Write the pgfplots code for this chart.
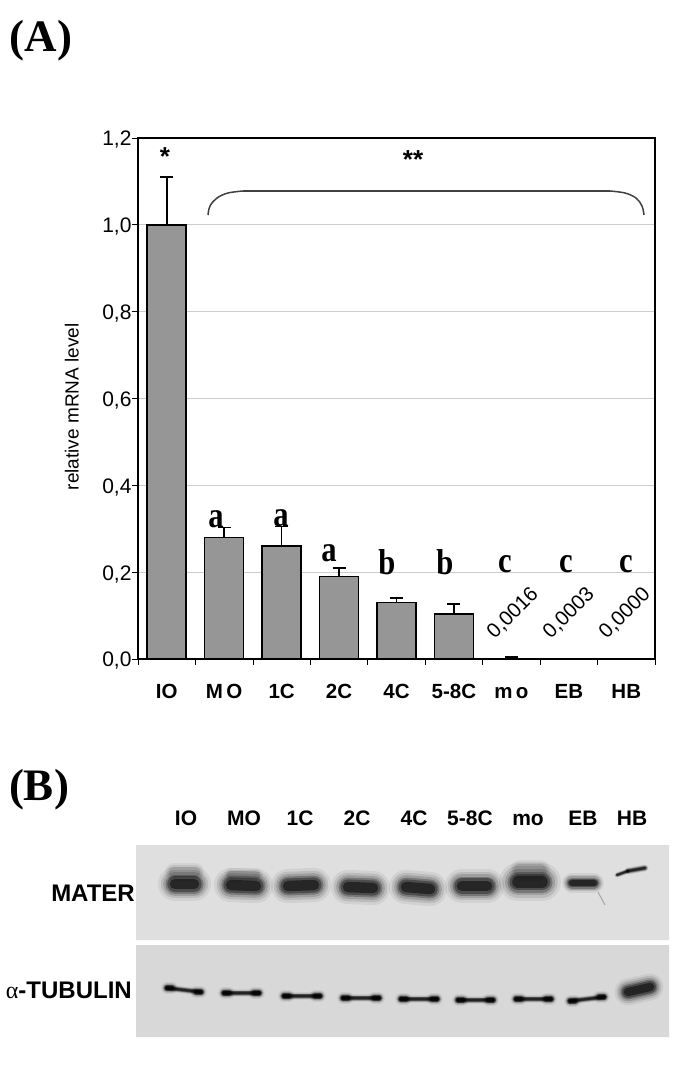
\documentclass[border=0pt]{standalone}
\usepackage{fontspec}
\setmainfont{Liberation Sans}
\newfontfamily\tms{Liberation Serif}
\usepackage{pgfplots}
\pgfplotsset{compat=1.18}
\usepackage{pgfplotstable}

\newcommand{\fs}[1]{\fontsize{#1}{#1}\selectfont}
\definecolor{barfill}{HTML}{969696}
\definecolor{gridc}{HTML}{CCCCCC}
\definecolor{blota}{HTML}{DFDFDF}
\definecolor{blotb}{HTML}{D8D8D8}

% relative mRNA level, x position 0.5 ... 8.5
\pgfplotstableread{
x    y      err
0.5  1.000  0.110
1.5  0.280  0.023
2.5  0.260  0.045
3.5  0.190  0.020
4.5  0.130  0.010
5.5  0.103  0.023
6.5  0.0016 0.0025
7.5  0.0003 0
8.5  0.0000 0
}\mrna

% blurred western blot band: x1 y1 x2 y2 width
\newcommand{\band}[5]{%
  \addplot[draw=black,line cap=round,opacity=0.06,line width=#5*1.8pt] coordinates {(#1,#2) (#3,#4)};
  \addplot[draw=black,line cap=round,opacity=0.10,line width=#5*1.5pt] coordinates {(#1,#2) (#3,#4)};
  \addplot[draw=black,line cap=round,opacity=0.15,line width=#5*1.25pt] coordinates {(#1,#2) (#3,#4)};
  \addplot[draw=black,line cap=round,opacity=0.25,line width=#5*1.0pt] coordinates {(#1,#2) (#3,#4)};
  \addplot[draw=black,line cap=round,opacity=0.35,line width=#5*0.8pt] coordinates {(#1,#2) (#3,#4)};
  \addplot[draw=black,line cap=round,opacity=0.50,line width=#5*0.55pt] coordinates {(#1,#2) (#3,#4)};
}
% faint smear above a band
\newcommand{\halo}[5]{%
  \addplot[draw=black,line cap=round,opacity=0.05,line width=#5*1.5pt] coordinates {(#1,#2) (#3,#4)};
  \addplot[draw=black,line cap=round,opacity=0.08,line width=#5*1.2pt] coordinates {(#1,#2) (#3,#4)};
  \addplot[draw=black,line cap=round,opacity=0.12,line width=#5*0.9pt] coordinates {(#1,#2) (#3,#4)};
}
% tubulin band: thin middle, heavier ends
\newcommand{\tub}[4]{%
  \band{#1}{#2}{#3}{#4}{4}
  \band{#1}{#2}{#1+5}{#2}{6.5}
  \band{#3-5}{#4}{#3}{#4}{6.5}
}

\pgfplotsset{px/.style={
  at={(0pt,0pt)},anchor=south west,
  width=685pt,height=1066pt,scale only axis,
  xmin=0,xmax=685,ymin=0,ymax=1066,y dir=reverse,
  axis lines=none,enlargelimits=false,clip=false,
}}

\begin{document}
\begin{tikzpicture}
% page and blot panels, in picture pixels
\begin{axis}[px]
\addplot[fill=white,draw=none] coordinates {(0,0) (685,0) (685,1066) (0,1066) (0,0)};
\addplot[fill=blota,draw=none] coordinates {(136,845) (669,845) (669,940) (136,940) (136,845)};
\addplot[fill=blotb,draw=none] coordinates {(136,945) (669,945) (669,1037) (136,1037) (136,945)};
% smears above the MATER bands
\halo{174}{872}{195}{872}{12}
\halo{231}{875}{256}{875}{9}
\halo{520}{870}{540}{870}{14}
% MATER
\band{175}{884}{194}{884}{19}
\band{231}{885}{256}{886}{19}
\band{288}{886}{314}{885}{19}
\band{348}{887}{373}{888}{19}
\band{406}{887}{430}{889}{19}
\band{462}{886}{487}{886}{19}
\band{518}{882}{542}{882}{21}
\band{572}{883}{594}{883}{11}
\band{617}{875}{628}{871}{3}
\band{628}{871}{645}{868}{4}
\addplot[draw=gray,line width=1pt,opacity=0.6] coordinates {(598,892) (605,905)};
% tubulin
\tub{167}{988}{201}{992}
\tub{224}{993}{259}{993}
\tub{284}{996}{320}{996}
\tub{343}{998}{379}{998}
\tub{401}{999}{437}{999}
\tub{458}{1000}{493}{1000}
\tub{516}{999}{551}{999}
\tub{570}{1001}{604}{997}
\band{628}{992}{650}{987}{15}
\end{axis}

\begin{axis}[
  at={(138pt,407pt)},anchor=south west,
  width=517pt,height=521pt,scale only axis,
  xmin=0,xmax=9,ymin=0,ymax=1.2,
  ytick={0,0.2,...,1.2},
  xtick={0.5,1.5,...,8.5},
  xticklabels={IO,M\,O,1C,2C,4C,5-8C,m\,o,EB,HB},
  minor xtick={0,...,9},
  xtick pos=bottom,ytick pos=left,
  tick align=outside,
  major x tick style={draw=none},
  major tick length=6pt,minor tick length=6pt,
  tick style={black,line width=0.7pt},
  ymajorgrids,
  grid style={gridc,line width=0.8pt},
  axis line style={line width=2pt},
  axis on top=false,
  scaled y ticks=false,
  yticklabel style={font=\fs{21},xshift=3pt,yshift=-2pt,
    /pgf/number format/.cd,fixed,fixed zerofill,precision=1,use comma,assume math mode=true},
  xticklabel style={font=\fs{20.5}\bfseries,yshift=-15pt,text height=15pt,text depth=0pt},
  ylabel={relative mRNA level},
  ylabel style={font=\fs{19},at={(axis description cs:-0.128,0.484)},anchor=center},
]
\addplot[ybar,bar width=39pt,bar shift=0pt,fill=barfill,draw=black,line width=1.6pt,
  error bars/.cd,y dir=plus,y explicit,
  error bar style={line width=1.6pt,black},
  error mark options={rotate=90,line width=1.6pt,mark size=6.5pt,black}]
  table[x=x,y=y,y error=err] {\mrna};
\end{axis}

% annotations, in picture pixels
\begin{axis}[px]
\node[font=\fs{45}\tms\bfseries,anchor=center] at (41,41) {(A)};
\node[font=\fs{45}\tms\bfseries,anchor=center] at (39,790) {(B)};
\node[font=\fs{26}\bfseries] at (165,157) {*};
\node[font=\fs{26}\bfseries] at (413,160) {**};
\addplot[draw=black!75,line width=1.5pt,smooth,tension=0.6] coordinates {(208,215) (210,206) (217,198) (228,193) (243,191)};
\addplot[draw=black!75,line width=1.5pt] coordinates {(243,191) (610,191)};
\addplot[draw=black!75,line width=1.5pt,smooth,tension=0.6] coordinates {(610,191) (625,193) (636,198) (642,206) (644,215)};
\foreach \px/\py/\t in {216/519/a,281/518/a,329/553/a,387/562/b,445/562/b,505/564/c,566/564/c,626/564/c}
  {\edef\tmp{\noexpand\node[font=\noexpand\fs{36}\noexpand\tms\noexpand\bfseries] at (\px,\py) {\noexpand\scalebox{0.85}[1]{\t}};}\tmp}
\node[font=\fs{20.5},rotate=45] at (513,613) {0,0016};
\node[font=\fs{20.5},rotate=45] at (569,613) {0,0003};
\node[font=\fs{20.5},rotate=45] at (625,613) {0,0000};
\foreach \px/\t in {186/IO,244/MO,300/1C,357/2C,414/4C,470/5-8C,528/mo,583/EB,632/HB}
  {\edef\tmp{\noexpand\node[font=\noexpand\fs{21}\noexpand\bfseries,anchor=base] at (\px,825) {\t};}\tmp}
\node[font=\fs{24}\bfseries,anchor=east,inner sep=0pt] at (135,893) {MATER};
\node[font=\fs{24}\bfseries,anchor=east,inner sep=0pt] at (132,990) {{\tms\mdseries α}-TUBULIN};
\end{axis}
\end{tikzpicture}
\end{document}
